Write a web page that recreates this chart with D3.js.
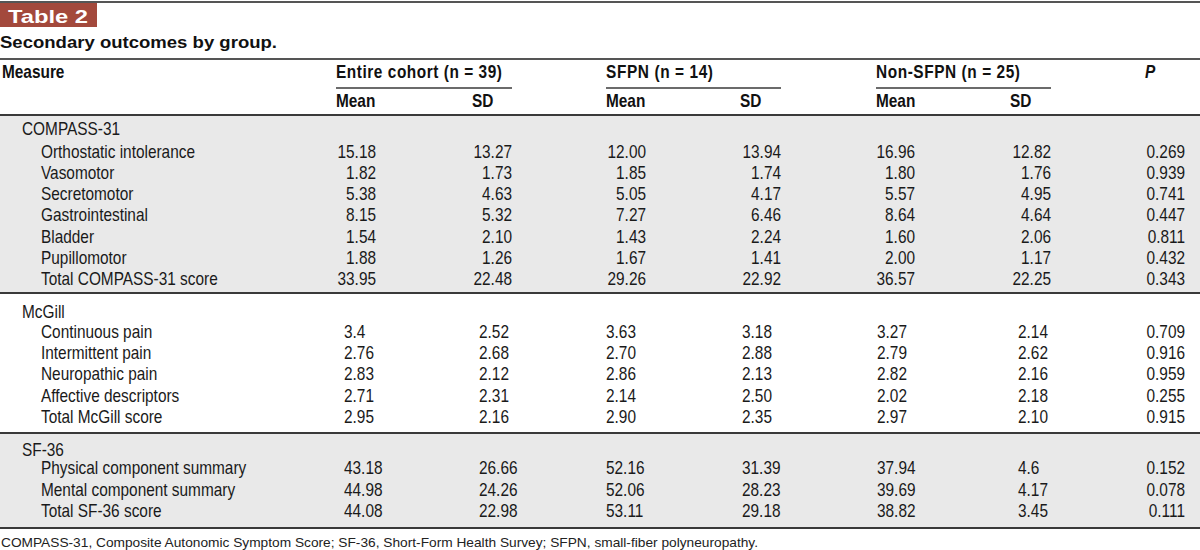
<!DOCTYPE html>
<html>
<head>
<meta charset="utf-8">
<script src="https://cdn.jsdelivr.net/npm/d3@7"></script>
<style>
  html, body { margin: 0; padding: 0; background: #fff; }
  svg { display: block; }
  text { font-family: "Liberation Sans", Arial, Helvetica, sans-serif; }
</style>
</head>
<body>
<svg id="chart" width="1200" height="550"></svg>
<script>
// ---- data ----
const sections = ["COMPASS-31", "McGill", "SF-36"];
const sectionMeasures = [
  ["Orthostatic intolerance", "Vasomotor", "Secretomotor", "Gastrointestinal", "Bladder", "Pupillomotor", "Total COMPASS-31 score"],
  ["Continuous pain", "Intermittent pain", "Neuropathic pain", "Affective descriptors", "Total McGill score"],
  ["Physical component summary", "Mental component summary", "Total SF-36 score"]
];
const groups = ["Entire cohort (n = 39)", "SFPN (n = 14)", "Non-SFPN (n = 25)"];
const statLabels = ["Mean", "SD"];
const entireMean = ["15.18","1.82","5.38","8.15","1.54","1.88","33.95", "3.4","2.76","2.83","2.71","2.95", "43.18","44.98","44.08"];
const entireSD   = ["13.27","1.73","4.63","5.32","2.10","1.26","22.48", "2.52","2.68","2.12","2.31","2.16", "26.66","24.26","22.98"];
const sfpnMean   = ["12.00","1.85","5.05","7.27","1.43","1.67","29.26", "3.63","2.70","2.86","2.14","2.90", "52.16","52.06","53.11"];
const sfpnSD     = ["13.94","1.74","4.17","6.46","2.24","1.41","22.92", "3.18","2.88","2.13","2.50","2.35", "31.39","28.23","29.18"];
const nonMean    = ["16.96","1.80","5.57","8.64","1.60","2.00","36.57", "3.27","2.79","2.82","2.02","2.97", "37.94","39.69","38.82"];
const nonSD      = ["12.82","1.76","4.95","4.64","2.06","1.17","22.25", "2.14","2.62","2.16","2.18","2.10", "4.6","4.17","3.45"];
const pValues    = ["0.269","0.939","0.741","0.447","0.811","0.432","0.343", "0.709","0.916","0.959","0.255","0.915", "0.152","0.078","0.111"];
const footnote = "COMPASS-31, Composite Autonomic Symptom Score; SF-36, Short-Form Health Survey; SFPN, small-fiber polyneuropathy.";

// ---- layout ----
const svg = d3.select("#chart");
const W = 1200;
const dark = "#3a3a3a";
const SX = 0.88; // condensed look

function txt(g, x, y, s, o = {}) {
  const sx = o.sx || SX;
  const t = g.append("text")
    .attr("transform", `translate(${x},${y}) scale(${sx},1)`)
    .attr("font-size", o.size || 17.5)
    .attr("fill", o.fill || "#1a1a1a")
    .attr("text-anchor", o.anchor || "start")
    .text(s);
  if (o.bold) t.attr("font-weight", "bold");
  if (o.italic) t.attr("font-style", "italic");
  if (o.len) t.attr("textLength", o.len / sx).attr("lengthAdjust", "spacing");
  return t;
}

// top rule
svg.append("line").attr("x1", 0).attr("x2", W).attr("y1", 2).attr("y2", 2).attr("stroke", "#555").attr("stroke-width", 2);
// badge
svg.append("rect").attr("x", 0).attr("y", 3).attr("width", 97).attr("height", 24).attr("fill", "#a3493c");
svg.append("text").attr("x", 8).attr("y", 23).attr("fill", "#fff")
  .attr("font-weight", "bold").attr("font-size", 19)
  .attr("textLength", 80).attr("lengthAdjust", "spacingAndGlyphs").text("Table 2");
// title
svg.append("text").attr("x", 0).attr("y", 48).attr("fill", "#111")
  .attr("font-weight", "bold").attr("font-size", 16.5)
  .attr("textLength", 277).attr("lengthAdjust", "spacingAndGlyphs").text("Secondary outcomes by group.");

// section row geometry
const sectionTop = [115, 293, 433];
const sectionBottom = [293, 433, 528];
const labelBase = [135, 318, 456];
const firstBase = [158, 338, 474];
const rowStep = [21.15, 21.2, 21.5];
const shaded = [true, false, true];

sections.forEach((s, i) => {
  if (shaded[i]) svg.append("rect").attr("x", 0).attr("y", sectionTop[i]).attr("width", W)
    .attr("height", sectionBottom[i] - sectionTop[i]).attr("fill", "#e9e9e9");
});

[59].forEach(y => svg.append("line").attr("x1", 0).attr("x2", W).attr("y1", y).attr("y2", y).attr("stroke", "#555").attr("stroke-width", 2));
[115, 293, 433, 528].forEach(y => svg.append("line").attr("x1", 0).attr("x2", W).attr("y1", y).attr("y2", y).attr("stroke", dark).attr("stroke-width", 2));

// columns
const groupX = d3.scaleOrdinal().domain(groups).range([336, 606, 876]);
const groupEnd = d3.scaleOrdinal().domain(groups).range([512, 781, 1051]);
const groupTextLen = [166, 107, 144];
const meanLeft = [344, 606, 877];
const sdLeft = [479, 742, 1018];
const meanRight = [376, 646, 915];
const sdRight = [512, 781, 1051];
const sdHeaderX = [472, 740, 1010];
const pRight = 1185;

const head = svg.append("g");
txt(head, 2, 78, "Measure", { bold: true, fill: "#111" });
groups.forEach((g, i) => {
  txt(head, groupX(g), 78, g, { bold: true, fill: "#111", len: groupTextLen[i] });
  svg.append("line").attr("x1", groupX(g)).attr("x2", groupEnd(g)).attr("y1", 88).attr("y2", 88).attr("stroke", dark).attr("stroke-width", 1.3);
  txt(head, groupX(g), 107, statLabels[0], { bold: true, fill: "#111" });
  txt(head, sdHeaderX[i], 107, statLabels[1], { bold: true, fill: "#111" });
});
txt(head, 1145, 78, "P", { bold: true, italic: true, fill: "#111" });

// body rows
const cols = [entireMean, entireSD, sfpnMean, sfpnSD, nonMean, nonSD];
let idx = 0;
const bodyG = svg.append("g");
sections.forEach((s, si) => {
  txt(bodyG, 22, labelBase[si], s);
  const rowsY = d3.scaleLinear().domain([0, 1]).range([firstBase[si], firstBase[si] + rowStep[si]]);
  sectionMeasures[si].forEach((m, ri) => {
    const y = rowsY(ri);
    txt(bodyG, 41, y, m);
    cols.forEach((c, ci) => {
      const gi = Math.floor(ci / 2);
      const isSD = ci % 2 === 1;
      const rightAlign = si === 0;
      const x = rightAlign ? (isSD ? sdRight[gi] : meanRight[gi]) : (isSD ? sdLeft[gi] : meanLeft[gi]);
      txt(bodyG, x, y, c[idx], { anchor: rightAlign ? "end" : "start" });
    });
    txt(bodyG, pRight, y, pValues[idx], { anchor: "end" });
    idx++;
  });
});

// footnote
svg.append("text").attr("x", 1).attr("y", 547).attr("font-size", 13.5).attr("fill", "#222")
  .attr("textLength", 757).attr("lengthAdjust", "spacingAndGlyphs").text(footnote);
</script>
</body>
</html>
